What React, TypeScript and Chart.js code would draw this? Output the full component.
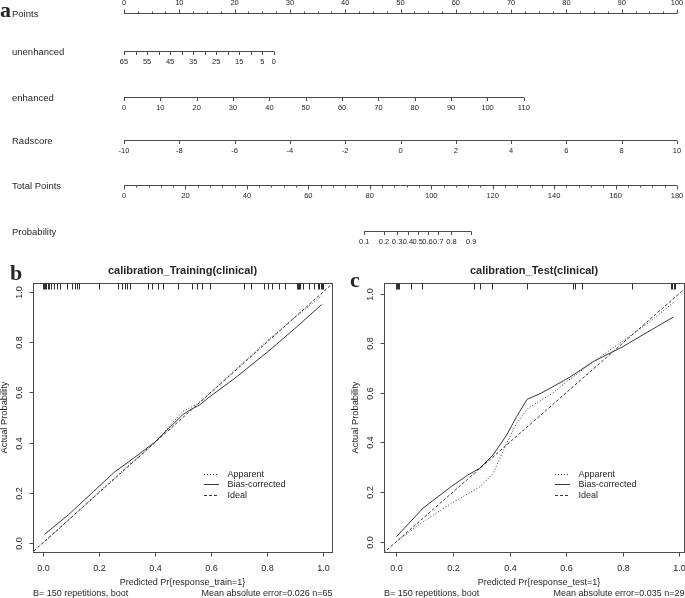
import React, { useEffect, useRef } from "react";
import { Chart, registerables } from "chart.js";

Chart.register(...registerables);

// ---------------- styles ----------------
const FONT = "'Liberation Sans', Arial, Helvetica, sans-serif";
const SERIF = "'Liberation Serif', 'Times New Roman', serif";
const INK = "#262626";
const AXIS = "#4a4a4a";
const CURVE = "#383838";

// ---------------- nomogram data ----------------
const POINTS_LABELS = [0, 10, 20, 30, 40, 50, 60, 70, 80, 90, 100];
const POINTS_MINOR_STEP = 2.5;

const UNENHANCED_TICKS = [65, 60, 55, 50, 45, 40, 35, 30, 25, 20, 15, 10, 5, 0];
const UNENHANCED_LABELS = [65, 55, 45, 35, 25, 15, 5, 0];
const UNENHANCED_POINTS_AT_ZERO = 27.1; // points given by unenhanced = 0 (65 -> 0 points)

const ENHANCED_TICKS = [0, 10, 20, 30, 40, 50, 60, 70, 80, 90, 100, 110];
const ENHANCED_POINTS_AT_110 = 72.3;

const RADSCORE_TICKS = [-10, -8, -6, -4, -2, 0, 2, 4, 6, 8, 10];

const TOTAL_LABELS = [0, 20, 40, 60, 80, 100, 120, 140, 160, 180];
const TOTAL_MINOR_STEP = 4;

const PROB_TICKS = [0.1, 0.2, 0.3, 0.4, 0.5, 0.6, 0.7, 0.8, 0.9];
const PROB_TP_AT_HALF = 95.6; // total points where probability = 0.5
const PROB_TP_PER_LOGIT = 7.92;

// ---------------- calibration data ----------------
const AXIS_TICKS = [0, 0.2, 0.4, 0.6, 0.8, 1.0];
const IDEAL_X = [-0.1, 1.1];
const IDEAL_Y = [-0.1, 1.1];

const TRAIN_APPARENT_X = [0.01, 0.1, 0.2, 0.3, 0.4, 0.45, 0.5, 0.55, 0.6, 0.7, 0.8, 0.9, 0.996];
const TRAIN_APPARENT_Y = [0.008, 0.1, 0.203, 0.303, 0.4, 0.463, 0.525, 0.553, 0.6, 0.704, 0.805, 0.9, 0.985];
const TRAIN_BIAS_X = [0.006, 0.09, 0.18, 0.257, 0.3, 0.35, 0.4, 0.45, 0.5, 0.53, 0.56, 0.59, 0.686, 0.805, 0.9, 0.996];
const TRAIN_BIAS_Y = [0.034, 0.111, 0.204, 0.284, 0.318, 0.36, 0.402, 0.457, 0.512, 0.533, 0.55, 0.578, 0.657, 0.764, 0.855, 0.951];
const TRAIN_RUG = [
  0.0, 0.004, 0.008, 0.012, 0.016, 0.022, 0.03, 0.038, 0.05, 0.062,
  0.085, 0.105, 0.113, 0.121, 0.13,
  0.2, 0.268, 0.283, 0.292, 0.3, 0.31,
  0.375, 0.39, 0.41, 0.428, 0.483,
  0.531, 0.55, 0.57, 0.598, 0.72, 0.743,
  0.79, 0.805, 0.82, 0.845, 0.866,
  0.908, 0.91, 0.912, 0.914, 0.917, 0.93, 0.95, 0.968,
  0.984, 0.988, 0.992, 0.996, 1.0,
];

const TEST_APPARENT_X = [0.0, 0.094, 0.194, 0.295, 0.342, 0.39, 0.425, 0.466, 0.507, 0.554, 0.602, 0.696, 0.802, 0.9, 0.98];
const TEST_APPARENT_Y = [0.0, 0.08, 0.154, 0.221, 0.275, 0.397, 0.477, 0.538, 0.568, 0.6, 0.645, 0.725, 0.81, 0.89, 0.965];
const TEST_BIAS_X = [0.0, 0.094, 0.194, 0.253, 0.295, 0.342, 0.39, 0.425, 0.462, 0.507, 0.554, 0.613, 0.696, 0.802, 0.861, 0.978];
const TEST_BIAS_Y = [0.02, 0.135, 0.222, 0.269, 0.296, 0.35, 0.43, 0.504, 0.574, 0.596, 0.625, 0.663, 0.726, 0.787, 0.827, 0.905];
const TEST_RUG = [
  0.0, 0.003, 0.006, 0.009, 0.052, 0.092, 0.273, 0.297, 0.338, 0.462,
  0.625, 0.632, 0.657, 0.833, 0.972, 0.976, 0.98, 0.985,
];

// ---------------- helpers ----------------
const zip = (xs: number[], ys: number[]) => xs.map((x, i) => ({ x, y: ys[i] }));
const stepList = (from: number, to: number, step: number) => {
  const out: number[] = [];
  for (let v = from; v <= to + 1e-9; v += step) out.push(Math.round(v * 1000) / 1000);
  return out;
};
const logit = (p: number) => Math.log(p / (1 - p));

type Row = {
  name: string;
  y: number;
  min: number;
  max: number;
  ticks: number[];
  labels: number[];
  minor?: number[];
  tickLen: number;
  up?: boolean;
  toPts: (v: number) => number;
};

const NOMO_ROWS: Row[] = [
  {
    name: "Points", y: 1.35, min: 0, max: 100, ticks: POINTS_LABELS, labels: POINTS_LABELS,
    minor: stepList(0, 100, POINTS_MINOR_STEP).filter((v) => !POINTS_LABELS.includes(v)),
    tickLen: 4, up: true, toPts: (v) => v,
  },
  {
    name: "unenhanced", y: 5.15, min: 0, max: 65, ticks: UNENHANCED_TICKS, labels: UNENHANCED_LABELS,
    tickLen: 3.5, toPts: (v) => ((65 - v) / 65) * UNENHANCED_POINTS_AT_ZERO,
  },
  {
    name: "enhanced", y: 9.75, min: 0, max: 110, ticks: ENHANCED_TICKS, labels: ENHANCED_TICKS,
    tickLen: 3.5, toPts: (v) => (v / 110) * ENHANCED_POINTS_AT_110,
  },
  {
    name: "Radscore", y: 14.05, min: -10, max: 10, ticks: RADSCORE_TICKS, labels: RADSCORE_TICKS,
    tickLen: 3.5, toPts: (v) => (v + 10) * 5,
  },
  {
    name: "Total Points", y: 18.55, min: 0, max: 180, ticks: TOTAL_LABELS, labels: TOTAL_LABELS,
    minor: stepList(0, 180, TOTAL_MINOR_STEP).filter((v) => !TOTAL_LABELS.includes(v)),
    tickLen: 4, toPts: (v) => (v * 100) / 180,
  },
  {
    name: "Probability", y: 23.15, min: 0.1, max: 0.9, ticks: PROB_TICKS, labels: PROB_TICKS,
    tickLen: 3.5, toPts: (p) => ((PROB_TP_AT_HALF + PROB_TP_PER_LOGIT * logit(p)) * 100) / 180,
  },
];

const nomogramPlugin = {
  id: "nomogram",
  afterDatasetsDraw(chart: any) {
    const { ctx, scales } = chart;
    const xs = scales.x;
    const ys = scales.y;
    ctx.save();
    ctx.strokeStyle = AXIS;
    ctx.lineWidth = 1;
    ctx.fillStyle = INK;
    for (const r of NOMO_ROWS) {
      const py = ys.getPixelForValue(r.y);
      const dir = r.up ? -1 : 1;
      const tick = (v: number, len: number) => {
        const px = Math.round(xs.getPixelForValue(r.toPts(v))) + 0.5;
        ctx.beginPath();
        ctx.moveTo(px, py);
        ctx.lineTo(px, py + dir * len);
        ctx.stroke();
      };
      r.ticks.forEach((v) => tick(v, r.tickLen));
      (r.minor || []).forEach((v) => tick(v, 2));
      ctx.font = `7.5px ${FONT}`;
      ctx.textAlign = "center";
      ctx.textBaseline = "middle";
      r.labels.forEach((v) => ctx.fillText(String(v), xs.getPixelForValue(r.toPts(v)), py + dir * 10.3));
      ctx.font = `9.5px ${FONT}`;
      ctx.textAlign = "left";
      ctx.fillText(r.name, 12, py + 0.5);
    }
    ctx.font = `bold 22px ${SERIF}`;
    ctx.textBaseline = "alphabetic";
    ctx.fillText("a", 0, 17);
    ctx.restore();
  },
};

function buildNomogram(canvas: HTMLCanvasElement) {
  return new Chart(canvas, {
    type: "scatter",
    data: {
      datasets: NOMO_ROWS.map((r) => ({
        data: [
          { x: r.toPts(r.min), y: r.y },
          { x: r.toPts(r.max), y: r.y },
        ],
        showLine: true,
        borderColor: AXIS,
        borderWidth: 1,
        pointRadius: 0,
        pointHoverRadius: 0,
      })),
    },
    options: {
      responsive: false,
      animation: false,
      devicePixelRatio: 1,
      events: [],
      layout: { padding: { left: 124, right: 8, top: 0, bottom: 0 } },
      scales: {
        x: { type: "linear", min: 0, max: 100, display: false },
        y: { type: "linear", min: 0, max: 25.5, reverse: true, display: false },
      },
      plugins: { legend: { display: false }, tooltip: { enabled: false } },
    },
    plugins: [nomogramPlugin],
  } as any);
}

type CalibCfg = {
  letter: string;
  letterX: number;
  letterY: number;
  title: string;
  xTitle: string;
  xTitleShift: number;
  mae: string;
  xMin: number;
  xMax: number;
  yMin: number;
  yMax: number;
  padding: { left: number; right: number; top: number; bottom: number };
  apparent: { x: number; y: number }[];
  bias: { x: number; y: number }[];
  rug: number[];
};

function calibPlugin(cfg: CalibCfg) {
  return {
    id: "calib",
    afterDraw(chart: any) {
      const { ctx, chartArea: ca, scales } = chart;
      const xs = scales.x;
      const ys = scales.y;
      ctx.save();
      ctx.strokeStyle = AXIS;
      ctx.lineWidth = 1;
      // frame
      ctx.strokeRect(ca.left + 0.5, ca.top + 0.5, ca.right - ca.left, ca.bottom - ca.top);
      // rug
      ctx.strokeStyle = "#303030";
      cfg.rug.forEach((v) => {
        const px = Math.round(xs.getPixelForValue(v)) + 0.5;
        ctx.beginPath();
        ctx.moveTo(px, ca.top + 0.5);
        ctx.lineTo(px, ca.top + 6.5);
        ctx.stroke();
      });
      ctx.strokeStyle = AXIS;
      ctx.fillStyle = INK;
      ctx.font = `9px ${FONT}`;
      ctx.textAlign = "center";
      ctx.textBaseline = "middle";
      // x ticks
      AXIS_TICKS.forEach((v) => {
        const px = Math.round(xs.getPixelForValue(v)) + 0.5;
        ctx.beginPath();
        ctx.moveTo(px, ca.bottom + 0.5);
        ctx.lineTo(px, ca.bottom + 4.5);
        ctx.stroke();
        ctx.fillText(v.toFixed(1), px, ca.bottom + 17);
      });
      // y ticks
      AXIS_TICKS.forEach((v) => {
        const py = Math.round(ys.getPixelForValue(v)) + 0.5;
        ctx.beginPath();
        ctx.moveTo(ca.left + 0.5, py);
        ctx.lineTo(ca.left - 3.5, py);
        ctx.stroke();
        ctx.save();
        ctx.translate(ca.left - 13, py);
        ctx.rotate(-Math.PI / 2);
        ctx.fillText(v.toFixed(1), 0, 0);
        ctx.restore();
      });
      const cx = (ca.left + ca.right) / 2;
      const cy = (ca.top + ca.bottom) / 2;
      // axis titles
      ctx.fillText(cfg.xTitle, cx + cfg.xTitleShift, ca.bottom + 30.5);
      ctx.save();
      ctx.translate(ca.left - 28.5, cy);
      ctx.rotate(-Math.PI / 2);
      ctx.font = `9.3px ${FONT}`;
      ctx.fillText("Actual Probability", 0, 0);
      ctx.restore();
      // subtitle
      ctx.textAlign = "left";
      ctx.fillText("B= 150 repetitions, boot", ca.left, ca.bottom + 41.5);
      ctx.textAlign = "right";
      ctx.fillText(cfg.mae, ca.right + 0.5, ca.bottom + 41.5);
      // title
      ctx.textAlign = "center";
      ctx.font = `bold 11px ${FONT}`;
      ctx.fillText(cfg.title, cx, ca.top - 12);
      // legend
      const items = [
        { label: "Apparent", dash: [1, 2] },
        { label: "Bias-corrected", dash: [] as number[] },
        { label: "Ideal", dash: [3, 2] },
      ];
      ctx.font = `9px ${FONT}`;
      ctx.textAlign = "left";
      items.forEach((it, i) => {
        const yy = Math.round(ca.top + 190.5 + i * 10.5) + 0.5;
        ctx.strokeStyle = CURVE;
        ctx.setLineDash(it.dash);
        ctx.beginPath();
        ctx.moveTo(ca.left + 171, yy);
        ctx.lineTo(ca.left + 186, yy);
        ctx.stroke();
        ctx.setLineDash([]);
        ctx.fillText(it.label, ca.left + 194.5, yy);
      });
      // panel letter
      ctx.font = `bold 22px ${SERIF}`;
      ctx.textBaseline = "alphabetic";
      ctx.fillText(cfg.letter, cfg.letterX, cfg.letterY);
      ctx.restore();
    },
  };
}

function buildCalib(canvas: HTMLCanvasElement, cfg: CalibCfg) {
  return new Chart(canvas, {
    type: "scatter",
    data: {
      datasets: [
        {
          label: "Ideal",
          data: zip(IDEAL_X, IDEAL_Y),
          showLine: true,
          borderColor: CURVE,
          borderWidth: 1,
          borderDash: [3, 2],
          pointRadius: 0,
        },
        {
          label: "Apparent",
          data: cfg.apparent,
          showLine: true,
          borderColor: CURVE,
          borderWidth: 1,
          borderDash: [1, 2],
          pointRadius: 0,
        },
        {
          label: "Bias-corrected",
          data: cfg.bias,
          showLine: true,
          borderColor: CURVE,
          borderWidth: 1,
          pointRadius: 0,
        },
      ],
    },
    options: {
      responsive: false,
      animation: false,
      devicePixelRatio: 1,
      events: [],
      layout: { padding: cfg.padding },
      scales: {
        x: { type: "linear", min: cfg.xMin, max: cfg.xMax, display: false },
        y: { type: "linear", min: cfg.yMin, max: cfg.yMax, display: false },
      },
      plugins: { legend: { display: false }, tooltip: { enabled: false } },
    },
    plugins: [calibPlugin(cfg)],
  } as any);
}

const TRAIN_CFG: CalibCfg = {
  letter: "b",
  letterX: 10,
  letterY: 25,
  title: "calibration_Training(clinical)",
  xTitle: "Predicted Pr{response_train=1}",
  xTitleShift: 0,
  mae: "Mean absolute error=0.026 n=65",
  xMin: -0.036,
  xMax: 1.033,
  yMin: -0.037,
  yMax: 1.037,
  padding: { left: 33, right: 10, top: 28, bottom: 46 },
  apparent: zip(TRAIN_APPARENT_X, TRAIN_APPARENT_Y),
  bias: zip(TRAIN_BIAS_X, TRAIN_BIAS_Y),
  rug: TRAIN_RUG,
};

const TEST_CFG: CalibCfg = {
  letter: "c",
  letterX: 8,
  letterY: 31.5,
  title: "calibration_Test(clinical)",
  xTitle: "Predicted Pr{response_test=1}",
  xTitleShift: 5,
  mae: "Mean absolute error=0.035 n=29",
  xMin: -0.044,
  xMax: 1.017,
  yMin: -0.042,
  yMax: 1.043,
  padding: { left: 42, right: 1, top: 28, bottom: 46 },
  apparent: zip(TEST_APPARENT_X, TEST_APPARENT_Y),
  bias: zip(TEST_BIAS_X, TEST_BIAS_Y),
  rug: TEST_RUG,
};

function ChartCanvas(props: {
  left: number;
  top: number;
  width: number;
  height: number;
  build: (c: HTMLCanvasElement) => Chart;
}) {
  const ref = useRef<HTMLCanvasElement>(null);
  useEffect(() => {
    const chart = props.build(ref.current as HTMLCanvasElement);
    return () => chart.destroy();
  }, []);
  return (
    <canvas
      ref={ref}
      width={props.width}
      height={props.height}
      style={{
        position: "absolute",
        left: props.left,
        top: props.top,
        width: props.width,
        height: props.height,
        display: "block",
      }}
    />
  );
}

export default function App() {
  useEffect(() => {
    document.body.style.margin = "0";
  }, []);
  return (
    <div style={{ position: "relative", width: 685, height: 598, background: "#fff", overflow: "hidden" }}>
      <style>{"body{margin:0;background:#fff}"}</style>
      <ChartCanvas left={0} top={0} width={685} height={255} build={buildNomogram} />
      <ChartCanvas left={0} top={255} width={342} height={343} build={(c) => buildCalib(c, TRAIN_CFG)} />
      <ChartCanvas left={342} top={255} width={343} height={343} build={(c) => buildCalib(c, TEST_CFG)} />
    </div>
  );
}
